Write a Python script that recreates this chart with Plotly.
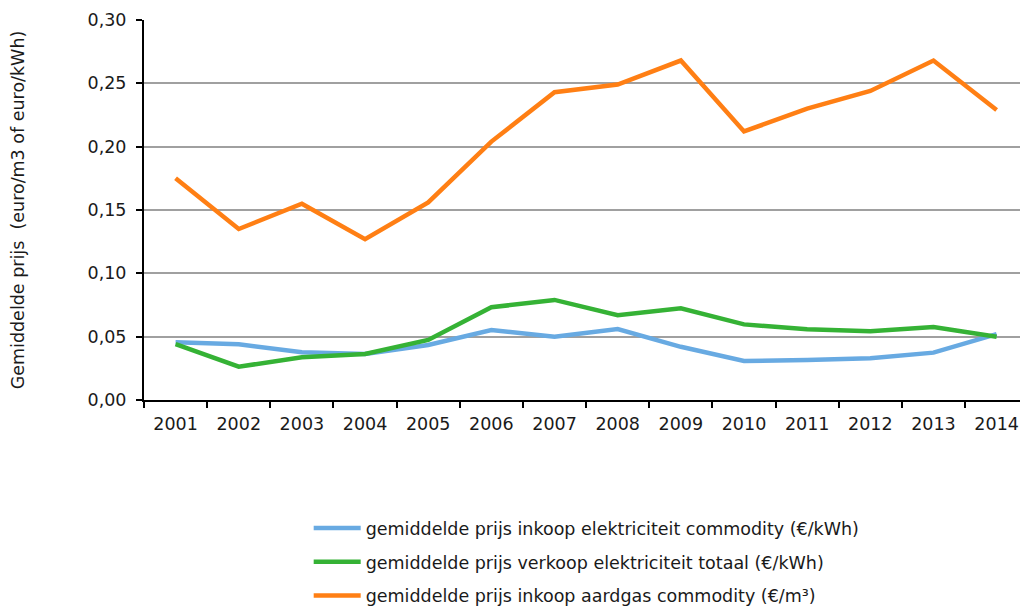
import plotly.graph_objects as go

years = ["2001", "2002", "2003", "2004", "2005", "2006", "2007",
         "2008", "2009", "2010", "2011", "2012", "2013", "2014"]
inkoop_elek = [0.0455, 0.044, 0.0377, 0.0363, 0.0434, 0.0553, 0.050,
               0.056, 0.042, 0.0308, 0.0316, 0.033, 0.0374, 0.052]
verkoop_elek = [0.0442, 0.0263, 0.0337, 0.0363, 0.0474, 0.0732, 0.079,
                0.067, 0.0724, 0.0597, 0.0558, 0.0542, 0.0576, 0.050]
inkoop_gas = [0.175, 0.135, 0.155, 0.127, 0.156, 0.204, 0.243,
              0.249, 0.268, 0.212, 0.230, 0.244, 0.268, 0.229]

names = ["gemiddelde prijs inkoop elektriciteit commodity (€/kWh)",
         "gemiddelde prijs verkoop elektriciteit totaal (€/kWh)",
         "gemiddelde prijs inkoop aardgas commodity (€/m³)"]
colors = ["#68AAE2", "#35B235", "#FF7F14"]

fig = go.Figure()
for i, (vals, name, col) in enumerate(zip([inkoop_elek, verkoop_elek, inkoop_gas], names, colors)):
    fig.add_trace(go.Scatter(x=years, y=vals, mode="lines", name=name,
                             legendgroup=f"g{i}",
                             line=dict(color=col, width=4.5)))

font = "DejaVu Sans, Verdana, sans-serif"
fs = 17.5
fig.update_layout(
    width=1020, height=630,
    margin=dict(l=144, r=0, t=20, b=230),
    paper_bgcolor="white", plot_bgcolor="white",
    separators=",.",
    font=dict(family=font, size=fs, color="#1a1a1a"),
    showlegend=True,
    legend=dict(x=0.188, y=-0.29, xanchor="left", yanchor="top",
                font=dict(size=fs), tracegroupgap=8, itemwidth=47,
                bgcolor="rgba(0,0,0,0)"),
)
fig.update_xaxes(
    type="category", range=[-0.5, 13.37],
    showline=True, linecolor="black", linewidth=2,
    ticks="outside", tickson="boundaries", ticklen=6, tickcolor="black", tickwidth=1.5,
    showgrid=False, tickfont=dict(size=fs), ticklabelstandoff=7,
)
fig.update_yaxes(
    range=[0, 0.30], dtick=0.05, tickformat=".2f",
    showline=True, linecolor="black", linewidth=2,
    ticks="outside", ticklen=6, tickcolor="black", tickwidth=1.5,
    showgrid=True, gridcolor="#A0A0A0", gridwidth=1.5,
    zeroline=False, ticklabelstandoff=6,
    tickfont=dict(size=fs),
    title=dict(text="Gemiddelde prijs  (euro/m3 of euro/kWh)", font=dict(size=fs), standoff=58),
)

fig.write_html("out.html", config={"displayModeBar": False},
               post_script="document.body.style.margin='0';document.body.style.overflow='hidden';")
